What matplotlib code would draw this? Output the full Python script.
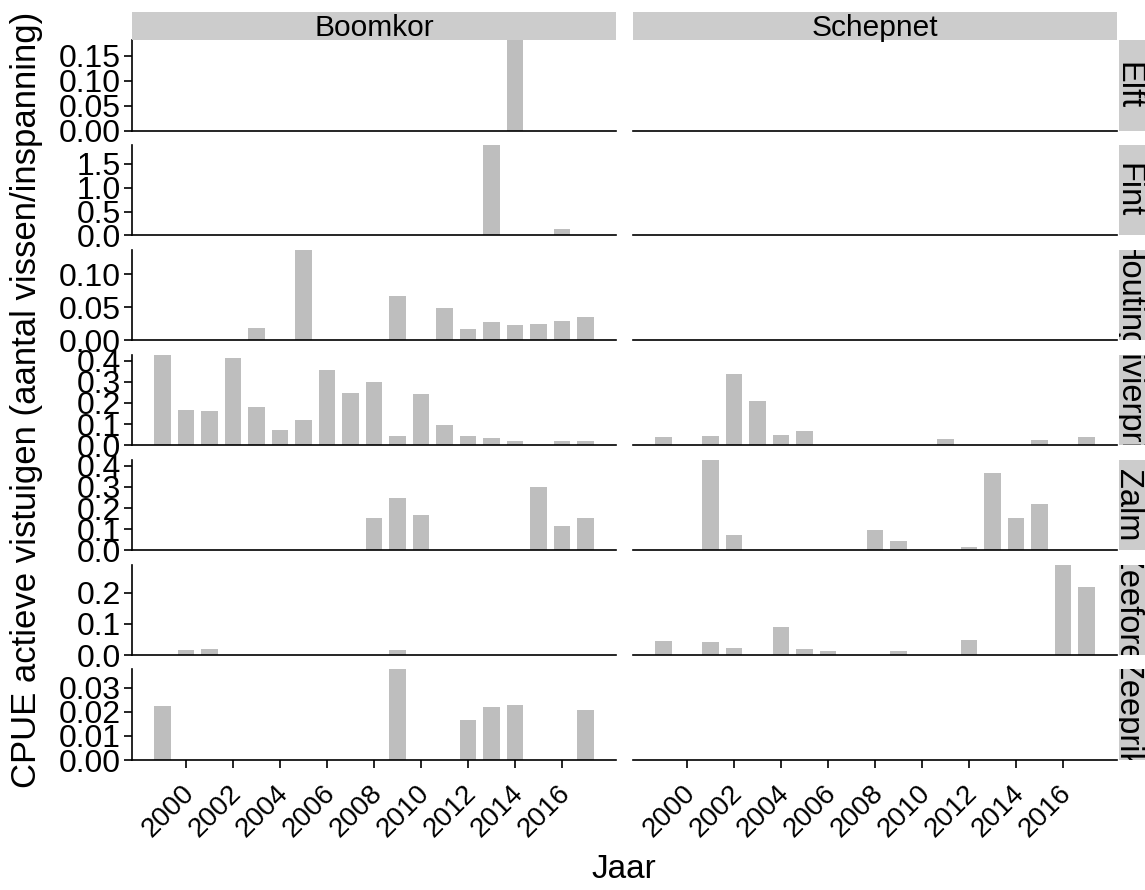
import numpy as np
import matplotlib
matplotlib.use("Agg")
import matplotlib.pyplot as plt
from matplotlib.transforms import ScaledTranslation

plt.rcParams["font.family"] = ["Liberation Sans", "DejaVu Sans"]

nan = np.nan
years = list(range(1999, 2018))
gears = ["Boomkor", "Schepnet"]
species = ["Elft", "Fint", "Houting", "Rivierprik", "Zalm", "Zeeforel", "Zeeprik"]

# CPUE per jaar (1999..2017), nan = geen waarde
boomkor_elft = [nan, nan, nan, nan, nan, nan, nan, nan, nan, nan, nan, nan, nan, nan, nan, 0.181, nan, nan, nan]
boomkor_fint = [nan, nan, nan, nan, nan, nan, nan, nan, nan, nan, nan, nan, nan, nan, 1.89, nan, nan, 0.14, nan]
boomkor_houting = [nan, nan, nan, nan, 0.019, nan, 0.1365, nan, nan, nan, 0.0665, nan, 0.049, 0.0175, 0.027, 0.023, 0.024, 0.029, 0.0355]
boomkor_rivierprik = [0.428, 0.166, 0.161, 0.411, 0.182, 0.070, 0.120, 0.357, 0.246, 0.300, 0.044, 0.244, 0.097, 0.044, 0.034, 0.018, nan, 0.020, 0.020]
boomkor_zalm = [nan, nan, nan, nan, nan, nan, nan, nan, nan, 0.151, 0.249, 0.165, nan, nan, nan, nan, 0.298, 0.117, 0.151]
boomkor_zeeforel = [nan, 0.0155, 0.019, nan, nan, nan, nan, nan, nan, nan, 0.0166, nan, nan, nan, nan, nan, nan, nan, nan]
boomkor_zeeprik = [0.0224, nan, nan, nan, nan, nan, nan, nan, nan, nan, 0.0376, nan, nan, 0.0166, 0.0219, 0.0229, nan, nan, 0.0209]

schepnet_elft = [nan] * 19
schepnet_fint = [nan] * 19
schepnet_houting = [nan] * 19
schepnet_rivierprik = [0.039, nan, 0.044, 0.339, 0.208, 0.048, 0.066, nan, nan, nan, nan, nan, 0.030, nan, nan, nan, 0.026, nan, 0.041]
schepnet_zalm = [nan, nan, 0.43, 0.071, nan, nan, nan, nan, nan, 0.098, 0.043, nan, nan, 0.016, 0.368, 0.154, 0.22, nan, nan]
schepnet_zeeforel = [0.046, nan, 0.041, 0.022, nan, 0.0895, 0.019, 0.013, nan, nan, 0.013, nan, nan, 0.049, nan, nan, nan, 0.29, 0.218]
schepnet_zeeprik = [nan] * 19

data = {
    "Boomkor": [boomkor_elft, boomkor_fint, boomkor_houting, boomkor_rivierprik,
                boomkor_zalm, boomkor_zeeforel, boomkor_zeeprik],
    "Schepnet": [schepnet_elft, schepnet_fint, schepnet_houting, schepnet_rivierprik,
                 schepnet_zalm, schepnet_zeeforel, schepnet_zeeprik],
}

y_ticks = [
    [0.0, 0.05, 0.10, 0.15],
    [0.0, 0.5, 1.0, 1.5],
    [0.0, 0.05, 0.10],
    [0.0, 0.1, 0.2, 0.3, 0.4],
    [0.0, 0.1, 0.2, 0.3, 0.4],
    [0.0, 0.1, 0.2],
    [0.0, 0.01, 0.02, 0.03],
]
y_fmt = ["%.2f", "%.1f", "%.2f", "%.1f", "%.1f", "%.1f", "%.2f"]
x_ticks = list(range(2000, 2017, 2))

W, H = 1145, 890
fig = plt.figure(figsize=(W / 100, H / 100), dpi=100)
gs = fig.add_gridspec(7, 2, left=132 / W, right=1117 / W, top=1 - 40 / H,
                      bottom=1 - 760 / H, hspace=0.158, wspace=0.035)

bar_col = "#BEBEBE"
strip_col = "#CCCCCC"
tick_fs = 23

for r, sp in enumerate(species):
    row_max = np.nanmax([np.nanmax(np.array(data[g][r], dtype=float)) for g in gears
                         if not np.all(np.isnan(data[g][r]))])
    for c, g in enumerate(gears):
        ax = fig.add_subplot(gs[r, c])
        vals = np.array(data[g][r], dtype=float)
        ax.bar(years, np.nan_to_num(vals), width=0.7, color=bar_col, edgecolor="none")
        ax.set_xlim(1997.7, 2018.3)
        ax.set_ylim(0, row_max)
        for s in ["top", "right"]:
            ax.spines[s].set_visible(False)
        ax.spines["bottom"].set_linewidth(1.2)
        ax.spines["left"].set_linewidth(1.2)
        ax.tick_params(length=6, width=1.2, labelsize=tick_fs, pad=2)
        if c == 0:
            ax.set_yticks(y_ticks[r])
            ax.set_yticklabels([y_fmt[r] % v for v in y_ticks[r]])
        else:
            ax.spines["left"].set_visible(False)
            ax.tick_params(left=False, labelleft=False)
        if r == len(species) - 1:
            ax.set_xticks(x_ticks)
            ax.set_xticklabels([str(x) for x in x_ticks], rotation=45, fontsize=20,
                               ha="right", va="top", rotation_mode="anchor")
            off = ScaledTranslation(-5 / 100, -9 / 100, fig.dpi_scale_trans)
            for lab in ax.get_xticklabels():
                lab.set_transform(lab.get_transform() + off)
        else:
            ax.tick_params(bottom=False, labelbottom=False)

        # column strips
        if r == 0:
            pos = ax.get_position()
            sax = fig.add_axes([pos.x0, pos.y1, pos.width, 28 / H])
            sax.set_facecolor(strip_col)
            sax.set_xticks([])
            sax.set_yticks([])
            for s in sax.spines.values():
                s.set_visible(False)
            sax.text(0.5, 0.42, g, ha="center", va="center", fontsize=21.5,
                     transform=sax.transAxes)

        # row strips
        if c == 1:
            pos = ax.get_position()
            sax = fig.add_axes([1119 / W, pos.y0, 40 / W, pos.height])
            sax.set_facecolor(strip_col)
            sax.set_xticks([])
            sax.set_yticks([])
            for s in sax.spines.values():
                s.set_visible(False)
            sax.text(0.0, 0.5, sp, rotation=-90, rotation_mode="anchor",
                     ha="center", va="baseline", fontsize=23.5,
                     transform=sax.transAxes, clip_on=True)

fig.text(27 / W, 1 - 400 / H, "CPUE actieve vistuigen (aantal vissen/inspanning)",
         rotation=90, ha="center", va="center", fontsize=25)
fig.text(624 / W, 1 - 870 / H, "Jaar", ha="center", va="center", fontsize=24)

fig.savefig("out.png", dpi=100)
